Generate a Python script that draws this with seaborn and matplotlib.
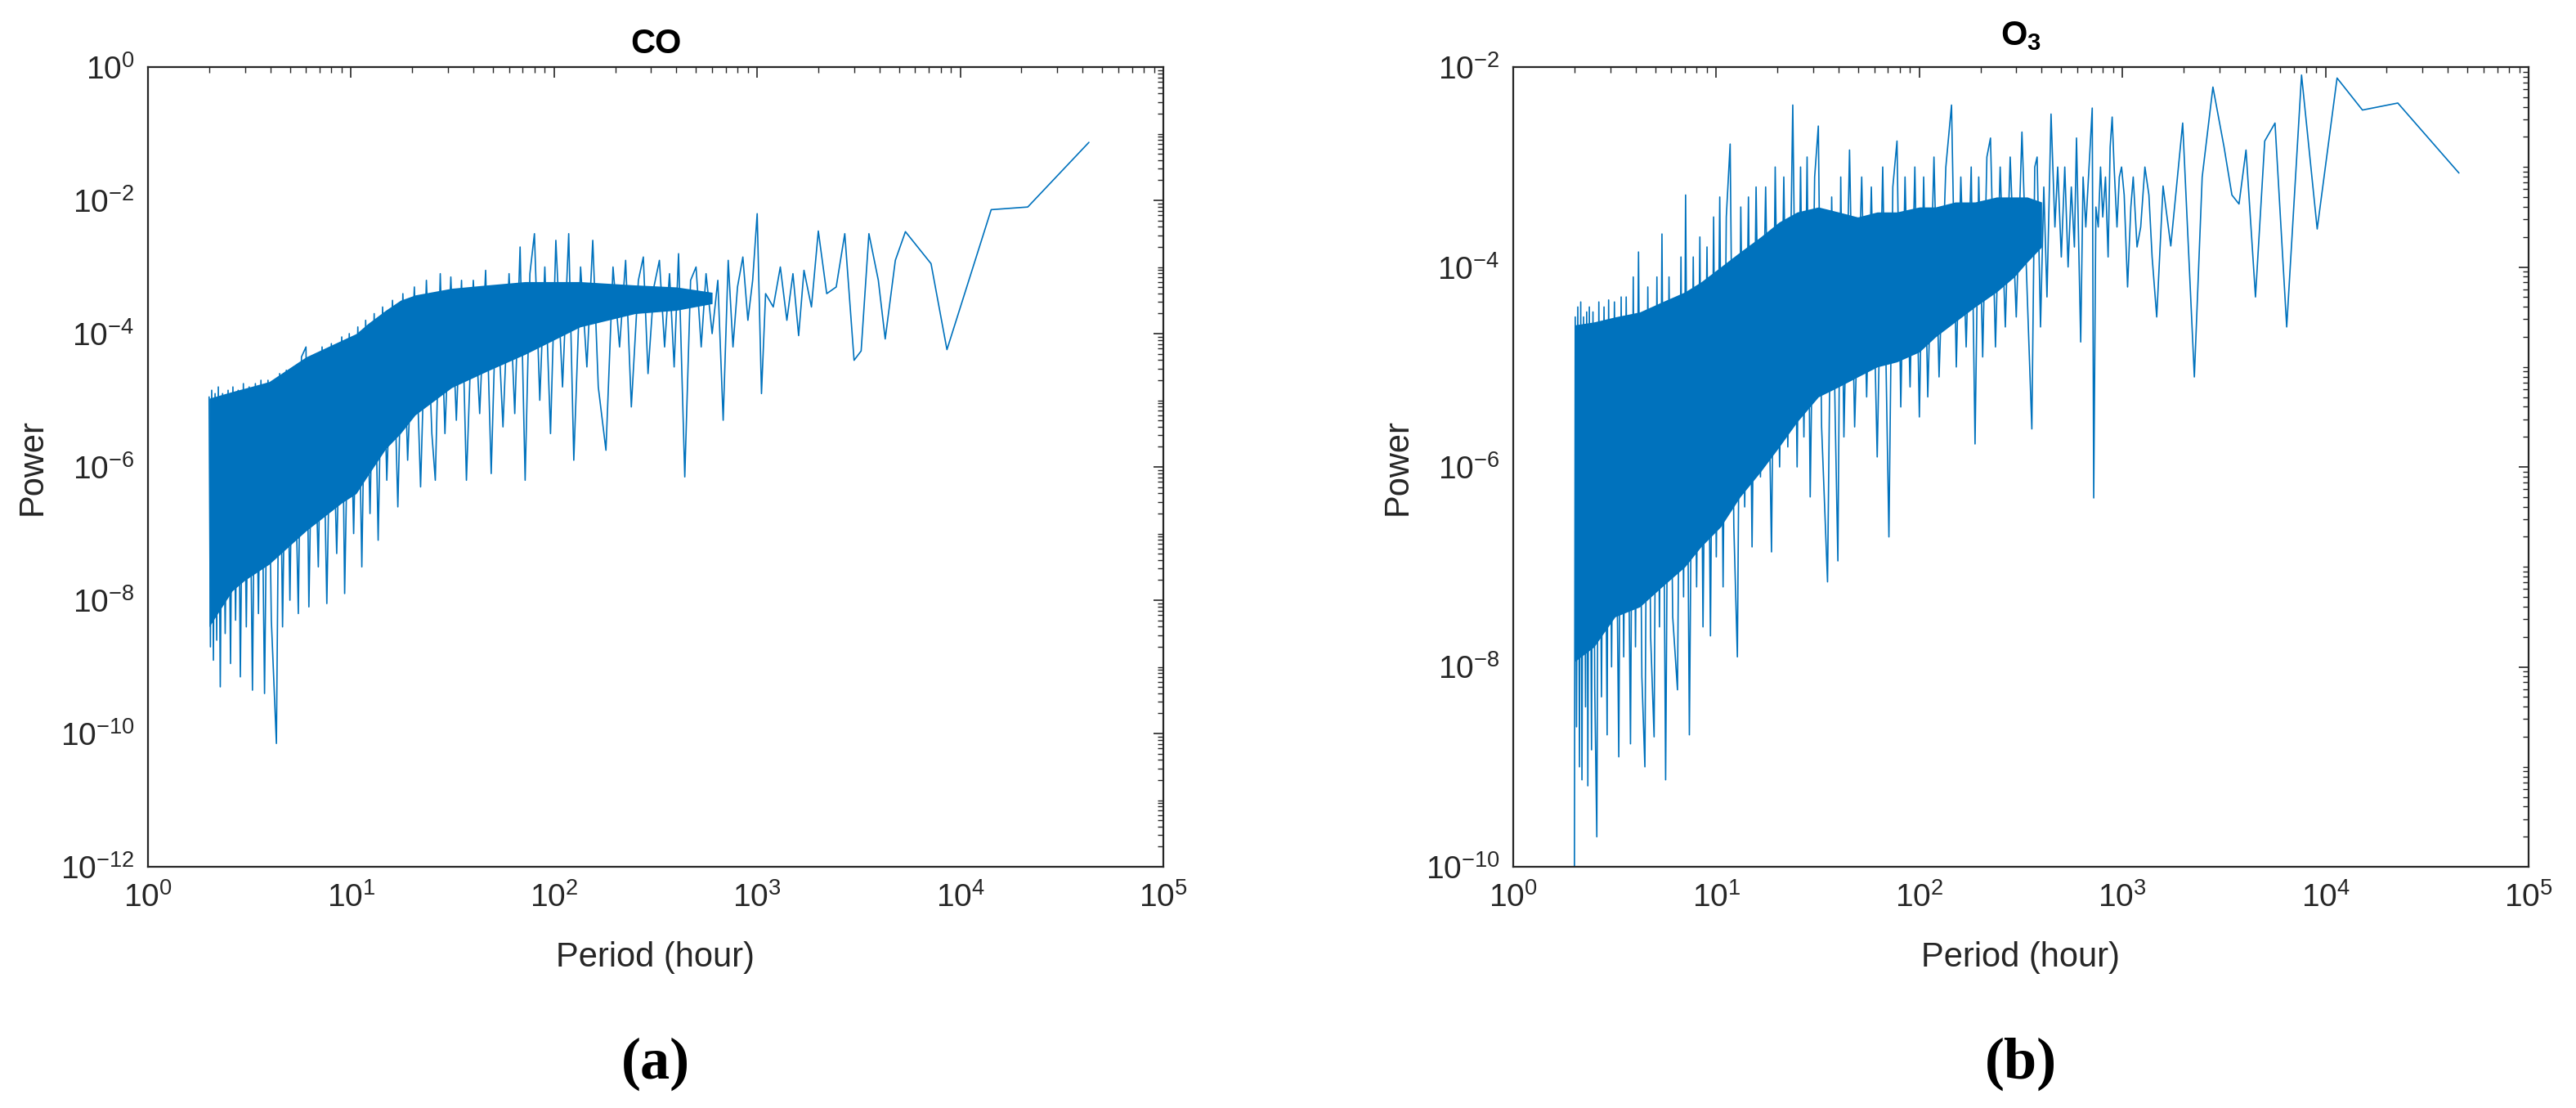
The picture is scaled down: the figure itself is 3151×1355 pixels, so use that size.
import numpy as np
import matplotlib
matplotlib.use("Agg")
import matplotlib.pyplot as plt
from matplotlib.ticker import FuncFormatter, LogLocator, NullFormatter
import seaborn as sns

# CO panel: period (hour) and log10(power)
co_period = [2.0, 2.03, 2.06, 2.1, 2.14, 2.18, 2.22, 2.27, 2.33, 2.4, 2.48, 2.55, 2.62, 2.7, 2.78,
             2.85, 2.95, 3.05, 3.15, 3.27, 3.38, 3.5, 3.6, 3.75, 3.9, 4.05, 4.29, 4.45, 4.6, 4.8,
             5.0, 5.2, 5.5, 5.7, 6.0, 6.2, 6.5, 6.9, 7.2, 7.6, 8.0, 8.5, 9.0, 9.3, 9.8,
             10.3, 10.8, 11.3, 11.8, 12.4, 13.0, 13.6, 14.3, 15.0, 16.0, 17.0, 18.0, 19.0, 20.5, 22,
             23.5, 25, 26, 27.5, 29, 31, 33, 35, 37, 40, 43, 46, 49, 52, 56,
             60, 64, 68, 72, 76, 80, 85, 90, 96, 102, 110, 118, 125, 135, 145,
             155, 165, 180, 195, 210, 225, 240, 260, 275, 290, 310, 330, 350, 370, 390,
             410, 440, 470, 500, 530, 560, 600, 640, 680, 720, 760, 800, 850, 900, 950,
             1000, 1050, 1100, 1200, 1300, 1400, 1500, 1600, 1700, 1850, 2000, 2200, 2450, 2700, 3000,
             3250, 3550, 3950, 4270, 4790, 5370, 7180, 8600, 14200, 21500, 43000]
co_logp = [-4.95, -8.7, -4.85, -8.9, -4.9, -8.6, -4.8, -9.3, -4.9, -8.5, -4.85, -8.95, -4.8, -8.3, -4.85,
           -9.15, -4.75, -8.4, -4.8, -9.35, -4.75, -8.2, -4.7, -9.4, -4.7, -8.3, -10.15, -4.6, -8.4, -4.55,
           -8.0, -4.5, -8.2, -4.35, -4.2, -8.1, -4.35, -7.5, -4.2, -8.05, -4.15, -7.3, -4.05, -7.9, -4.0,
           -7.0, -3.9, -7.5, -3.8, -6.7, -3.7, -7.1, -3.6, -6.2, -3.5, -6.6, -3.4, -5.9, -3.3, -6.3,
           -3.2, -5.5, -6.2, -3.1, -5.5, -3.15, -5.3, -3.2, -6.2, -3.2, -5.2, -3.05, -6.1, -3.3, -5.4,
           -3.1, -5.2, -2.7, -6.2, -3.1, -2.5, -5.0, -3.0, -5.5, -2.6, -4.8, -2.5, -5.9, -3.0, -4.5,
           -2.6, -4.8, -5.75, -3.0, -4.2, -2.9, -5.1, -3.2, -2.85, -4.6, -3.3, -2.9, -4.2, -3.1, -4.5,
           -2.8, -6.15, -3.2, -3.0, -4.2, -3.1, -4.0, -3.2, -5.3, -2.9, -4.2, -3.3, -2.85, -3.8, -3.2,
           -2.2, -4.9, -3.4, -3.6, -3.0, -3.8, -3.1, -4.03, -3.05, -3.6, -2.46, -3.4, -3.3, -2.5, -4.4,
           -4.26, -2.5, -3.2, -4.08, -2.9, -2.47, -2.95, -4.24, -2.14, -2.1, -1.13]
# CO dense core: lower / upper edge of the solid blue band
co_band_period = [2.0, 2.6, 3.0, 3.95, 6.0, 9.0, 10.6, 12.1, 14.8, 17.5, 20.7, 31.3, 47, 72, 134, 250, 400, 600]
co_band_lo = [-8.4, -7.86, -7.7, -7.46, -6.96, -6.54, -6.4, -6.13, -5.73, -5.5, -5.22, -4.81, -4.56, -4.31, -3.9, -3.7, -3.65, -3.55]
co_band_hi = [-4.97, -4.87, -4.82, -4.72, -4.35, -4.1, -4.0, -3.85, -3.65, -3.5, -3.42, -3.32, -3.27, -3.22, -3.22, -3.27, -3.3, -3.38]

# O3 panel
o3_period = [2.0, 2.02, 2.05, 2.08, 2.12, 2.15, 2.18, 2.22, 2.27, 2.3, 2.33, 2.37, 2.43, 2.47, 2.52,
             2.58, 2.64, 2.72, 2.8, 2.9, 2.95, 3.05, 3.15, 3.31, 3.4, 3.5, 3.6, 3.78, 3.9, 4.0,
             4.14, 4.3, 4.45, 4.6, 4.75, 4.94, 5.1, 5.25, 5.4, 5.63, 5.85, 6.1, 6.44, 6.7, 6.9,
             7.06, 7.37, 7.7, 8.0, 8.3, 8.6, 9.0, 9.36, 9.7, 10.0, 10.4, 10.8, 11.2, 11.7, 12.2,
             12.7, 13.2, 13.8, 14.4, 15.0, 15.7, 16.5, 17.5, 18.7, 19.5, 20.5, 21.5, 22.5, 23.8, 25.0,
             26, 27, 28, 29, 30.5, 31.8, 33, 35.3, 37.0, 38.5, 39.7, 41, 42.5, 45.3, 48,
             52, 55, 58, 62, 66, 70.8, 74, 77.6, 81, 85, 90, 95, 100, 105, 110,
             118, 125, 135, 144, 152, 160, 170, 180, 188, 196, 205, 215, 224, 237, 250,
             265, 280, 300, 320, 340, 358, 370, 380, 395, 410, 425, 445, 465, 480, 500,
             520, 540, 560, 580, 594, 623, 640, 660, 685, 710, 722, 740, 760, 780, 800,
             825, 850, 870, 890, 910, 940, 965, 990, 1020, 1060, 1100, 1130, 1180, 1230, 1290,
             1350, 1400, 1475, 1585, 1730, 1980, 2260, 2470, 2790, 3165, 3460, 3750, 4060, 4520, 5020,
             5640, 6440, 7620, 9100, 11400, 15200, 22700, 45400]
o3_logp = [-10.5, -4.5, -8.6, -4.4, -9.0, -4.35, -9.13, -4.5, -8.4, -4.45, -9.19, -4.4, -8.83, -4.45, -8.2,
           -9.7, -4.35, -8.3, -4.4, -8.68, -4.33, -8.0, -4.35, -8.9, -4.3, -7.9, -4.3, -8.77, -4.1, -7.8,
           -3.85, -8.1, -9.0, -4.2, -7.7, -8.7, -4.1, -7.6, -3.67, -9.13, -4.1, -7.5, -8.23, -3.9, -7.3,
           -3.28, -8.68, -3.9, -7.2, -3.7, -7.6, -3.8, -7.69, -3.5, -6.9, -3.3, -7.2, -3.5, -2.77, -6.6,
           -7.9, -3.4, -6.4, -3.3, -6.8, -3.2, -6.1, -3.2, -6.85, -3.0, -6.0, -3.1, -5.8, -2.38, -6.0,
           -3.0, -5.7, -2.9, -6.3, -3.1, -2.59, -5.6, -7.15, -3.3, -5.5, -6.94, -3.1, -5.7, -2.83, -5.6,
           -3.1, -5.3, -3.2, -5.9, -3.0, -6.7, -3.2, -2.74, -5.4, -3.1, -5.2, -3.0, -5.5, -3.1, -5.3,
           -2.9, -5.1, -3.0, -2.38, -5.0, -3.1, -4.8, -3.0, -5.77, -3.1, -4.9, -2.9, -2.71, -4.8, -3.0,
           -4.6, -2.9, -4.5, -2.65, -4.3, -5.62, -3.0, -2.9, -4.6, -3.2, -4.3, -2.47, -3.6, -3.0, -3.9,
           -3.0, -4.0, -3.2, -3.8, -2.71, -4.75, -3.1, -3.6, -3.0, -2.41, -6.31, -3.4, -3.6, -3.0, -3.5,
           -3.1, -3.9, -2.8, -2.5, -3.0, -3.6, -3.1, -3.0, -3.28, -4.2, -3.4, -3.1, -3.8, -3.6, -3.0,
           -3.28, -3.9, -4.5, -3.19, -3.79, -2.56, -5.1, -3.1, -2.2, -2.8, -3.28, -3.37, -2.83, -4.3, -2.74,
           -2.56, -4.6, -2.08, -3.62, -2.11, -2.43, -2.36, -3.06]
o3_band_period = [2.0, 2.5, 3.17, 4.2, 5.4, 7.0, 8.4, 10.5, 13.1, 16.5, 20.4, 25, 31.8, 40, 49.7,
                  62, 77.4, 100, 120, 150, 188, 240, 293, 340, 400]
o3_band_lo = [-7.95, -7.8, -7.5, -7.4, -7.2, -7.0, -6.8, -6.6, -6.3, -6.05, -5.8, -5.55, -5.3, -5.2, -5.1,
              -5.0, -4.95, -4.85, -4.7, -4.55, -4.4, -4.25, -4.1, -3.95, -3.8]
o3_band_hi = [-4.58, -4.55, -4.5, -4.45, -4.35, -4.25, -4.15, -4.0, -3.85, -3.7, -3.55, -3.45, -3.4, -3.45, -3.5,
              -3.45, -3.45, -3.4, -3.4, -3.35, -3.35, -3.3, -3.3, -3.3, -3.35]

line_color = "#0072BD"
ink = "#262626"

sns.set_style("white")
plt.rcParams["font.family"] = ["Liberation Sans", "DejaVu Sans"]
plt.rcParams["mathtext.default"] = "regular"

fig = plt.figure(figsize=(31.51, 13.55), dpi=100)
ax1 = fig.add_axes([181 / 3151, 1 - 1060 / 1355, 1242 / 3151, 978 / 1355])
ax2 = fig.add_axes([1851 / 3151, 1 - 1060 / 1355, 1242 / 3151, 978 / 1355])


def draw_panel(ax, period, logp, bp, blo, bhi, ylow, yhigh, title, ty):
    power = 10.0 ** np.array(logp)
    ax.fill_between(bp, 10.0 ** np.array(blo), 10.0 ** np.array(bhi),
                    color=line_color, lw=0)
    sns.lineplot(x=period, y=power, ax=ax, color=line_color, lw=1.2,
                 estimator=None, sort=False)
    ax.set_xscale("log")
    ax.set_yscale("log")
    ax.set_xlim(1, 1e5)
    ax.set_ylim(10.0 ** ylow, 10.0 ** yhigh)
    ax.set_xticks([10.0 ** k for k in range(0, 6)])
    ax.set_yticks([10.0 ** k for k in range(ylow, yhigh + 1, 2)])
    fmt = FuncFormatter(lambda v, p: r"$10^{%d}$" % round(np.log10(v)))
    ax.xaxis.set_major_formatter(fmt)
    ax.yaxis.set_major_formatter(fmt)
    ax.xaxis.set_minor_locator(LogLocator(base=10, subs=np.arange(1, 10), numticks=100))
    ax.yaxis.set_minor_locator(LogLocator(base=10, subs=np.arange(1, 10), numticks=100))
    ax.xaxis.set_minor_formatter(NullFormatter())
    ax.yaxis.set_minor_formatter(NullFormatter())
    ax.tick_params(which="both", direction="in", top=True, right=True,
                   colors=ink, labelsize=28)
    ax.tick_params(which="major", length=9, width=1.2)
    ax.tick_params(which="minor", length=5, width=1.0)
    ax.tick_params(axis="x", pad=14)
    ax.tick_params(axis="y", pad=12)
    for s in ax.spines.values():
        s.set_visible(True)
        s.set_color(ink)
        s.set_linewidth(1.6)
    ax.set_xlabel("Period (hour)", fontsize=30, color=ink)
    ax.set_ylabel("Power", fontsize=30, color=ink)
    ax.xaxis.set_label_coords(0.5, -0.1135)
    ax.xaxis.label.set_va("center")
    ax.yaxis.set_label_coords(-0.1135, 0.5)
    ax.yaxis.label.set_va("center")
    ax.yaxis.label.set_ha("center")
    ax.set_title(title, fontsize=30, fontweight="bold", color="black", y=ty, pad=0)


draw_panel(ax1, co_period, co_logp, co_band_period, co_band_lo, co_band_hi,
           -12, 0, "CO", 1.0174)
draw_panel(ax2, o3_period, o3_logp, o3_band_period, o3_band_lo, o3_band_hi,
           -10, -2, r"O$_3$", 1.0276)

serif = ["Liberation Serif", "DejaVu Serif"]
fig.text(802 / 3151, 1 - 1301 / 1355, "(a)", ha="center", va="center",
         fontsize=52, fontweight="bold", family=serif, color="black")
fig.text(2472 / 3151, 1 - 1301 / 1355, "(b)", ha="center", va="center",
         fontsize=52, fontweight="bold", family=serif, color="black")

fig.savefig("out.png", dpi=100, facecolor="white")
